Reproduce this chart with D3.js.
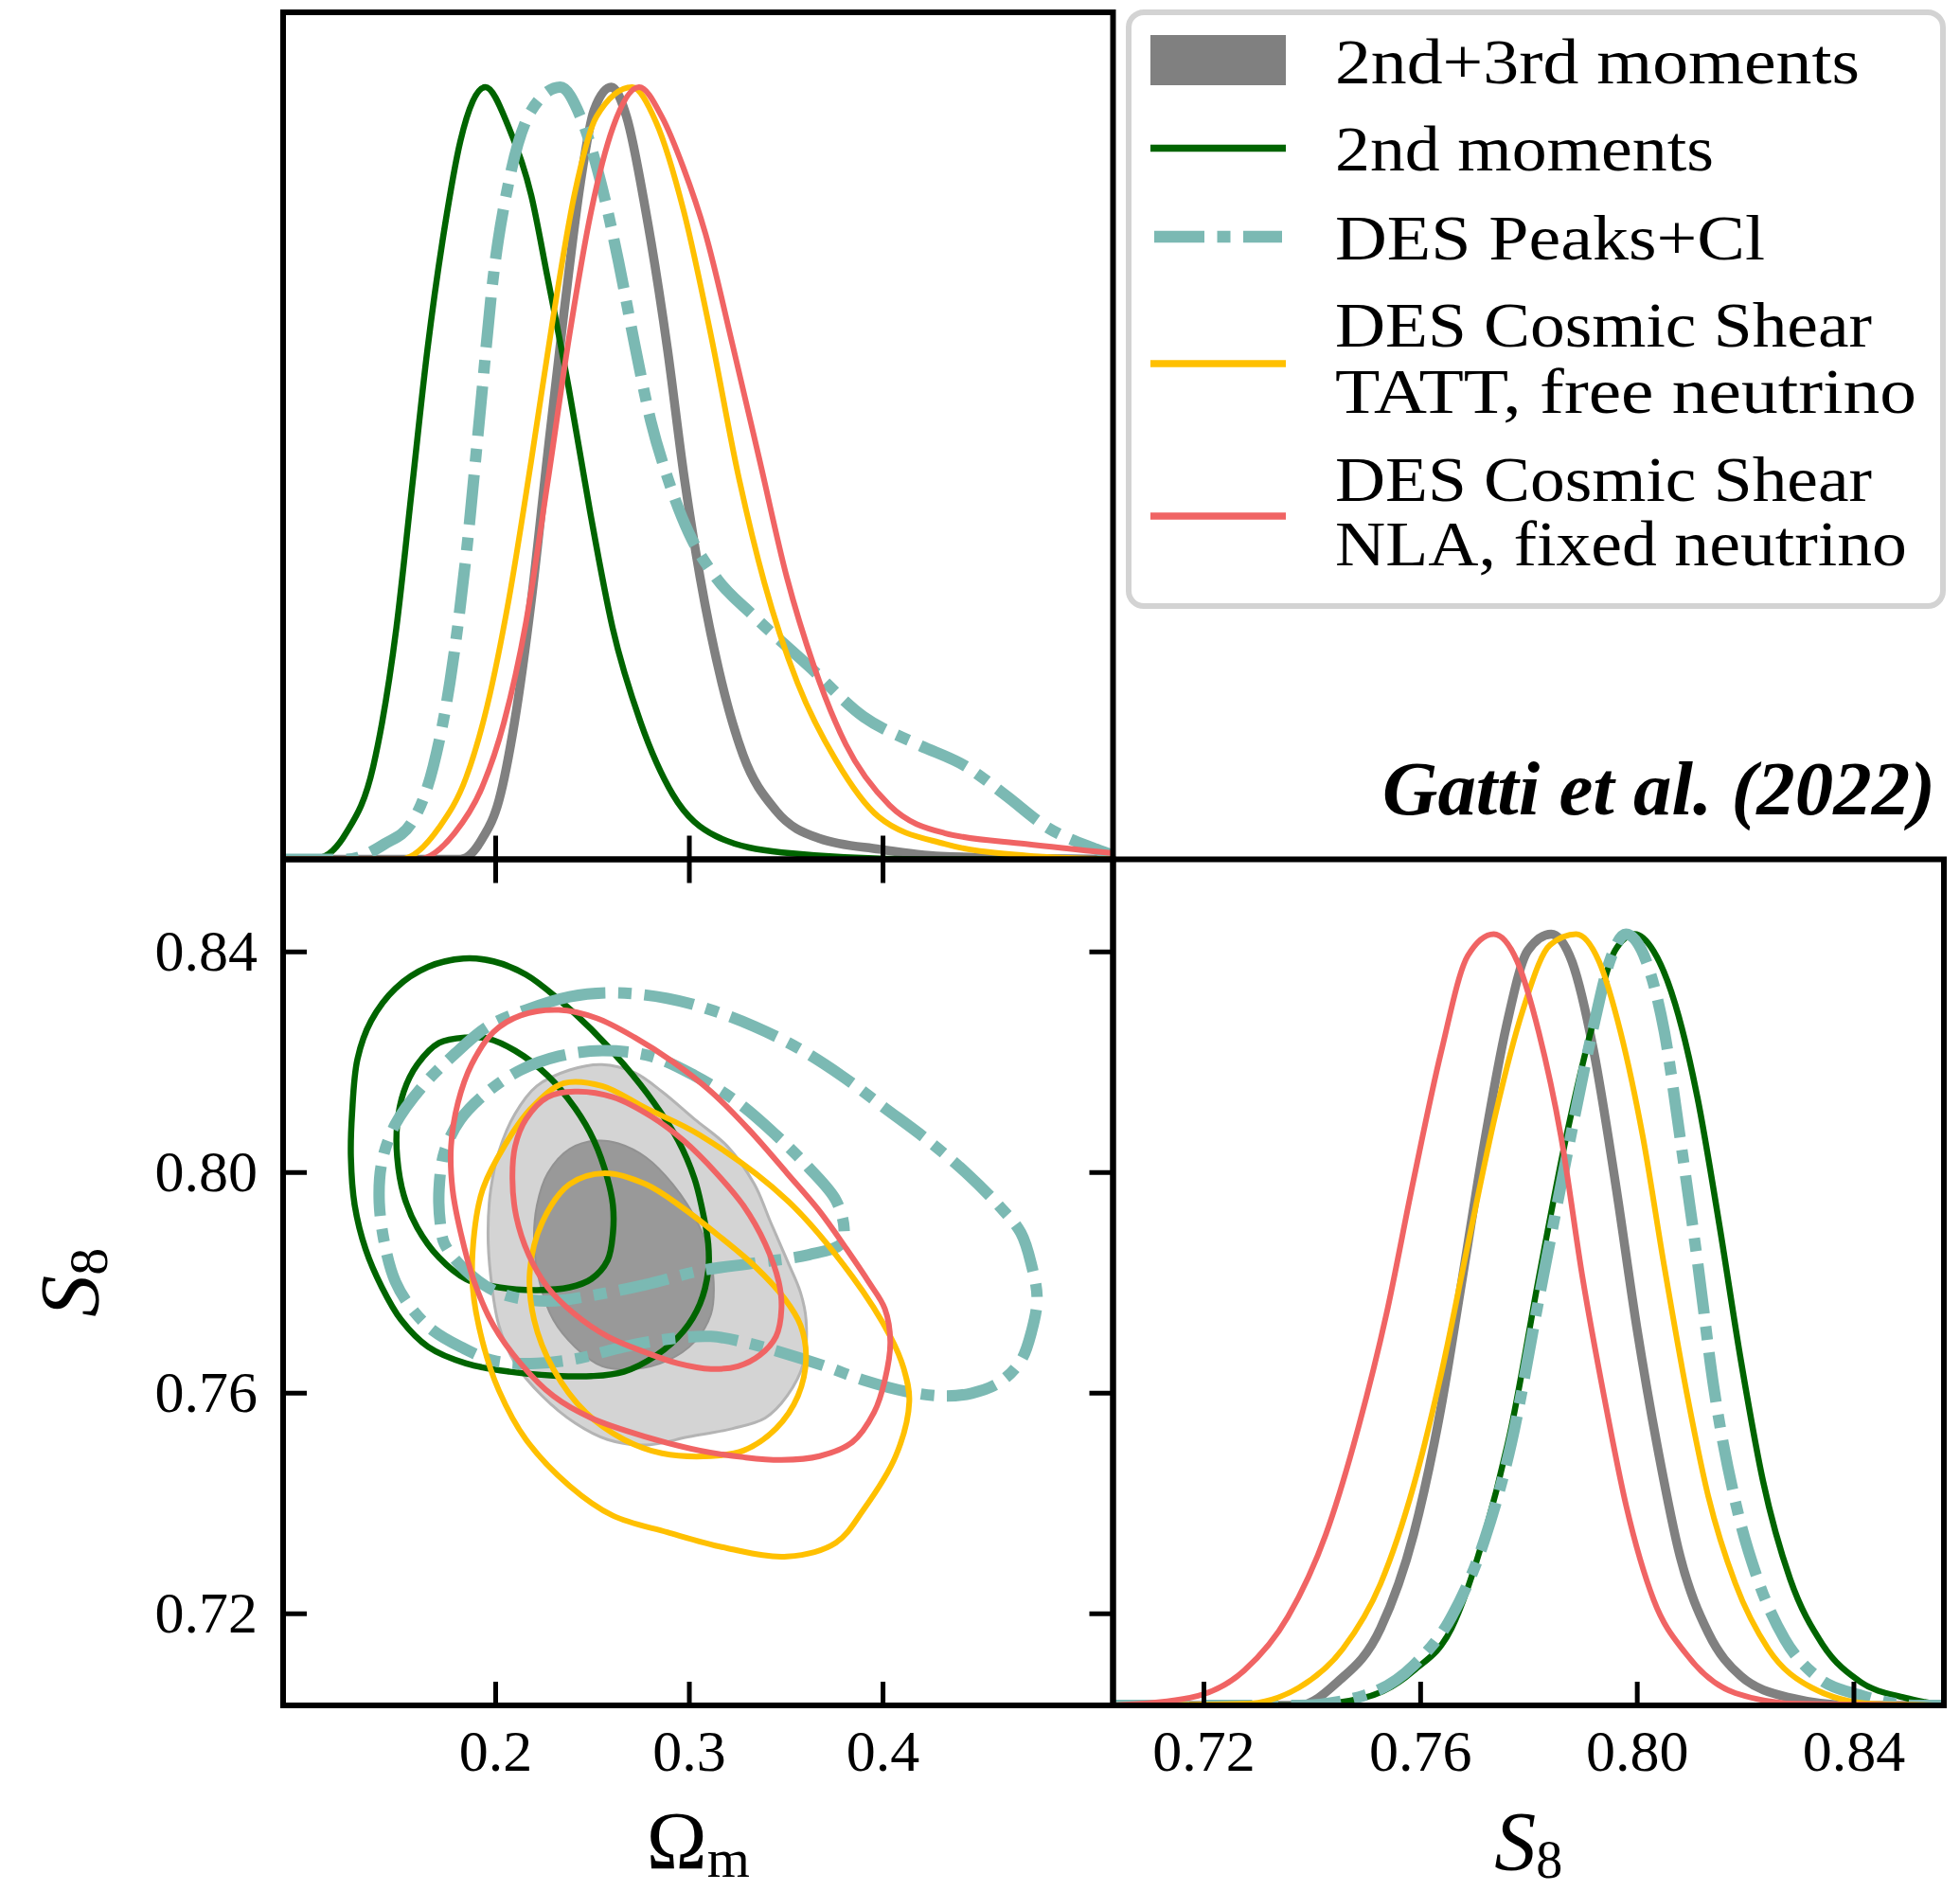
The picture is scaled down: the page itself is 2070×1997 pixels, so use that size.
<!DOCTYPE html>
<meta charset="utf-8">
<style>
  body { margin: 0; background: #fff; }
  text { font-family: "Liberation Serif", "Times New Roman", serif; }
</style>
<body>
<script src="https://d3js.org/d3.v7.min.js"></script>
<script>

// ---- data ----
var omRange = [0.0905, 0.519];
var s8Range = [0.7033, 0.8567];
var omTicks = [0.2, 0.3, 0.4];
var s8Ticks = [0.72, 0.76, 0.80, 0.84];

// 1D marginal of Omega_m, [Om, P/Pmax]
var om_23 = [[0.0905,0],[0.182,0],[0.1934,0.027],[0.202,0.077],[0.210,0.178],[0.2187,0.336],[0.227,0.523],[0.2356,0.71],[0.244,0.876],[0.251,0.97],[0.260,1.0],[0.2678,0.962],[0.2777,0.84],[0.289,0.66],[0.2973,0.50],[0.3058,0.365],[0.317,0.229],[0.328,0.135],[0.345,0.063],[0.3675,0.027],[0.3985,0.013],[0.43,0.004],[0.519,0]];
var om_2nd = [[0.0905,0],[0.109,0.002],[0.123,0.034],[0.137,0.12],[0.149,0.30],[0.157,0.48],[0.165,0.66],[0.174,0.82],[0.182,0.93],[0.1949,1.0],[0.207,0.948],[0.2186,0.86],[0.227,0.754],[0.238,0.61],[0.249,0.45],[0.2606,0.30],[0.275,0.178],[0.2917,0.084],[0.314,0.03],[0.348,0.009],[0.42,0],[0.519,0]];
var om_peaks = [[0.0905,0],[0.123,0],[0.143,0.02],[0.157,0.048],[0.168,0.12],[0.1766,0.229],[0.185,0.394],[0.192,0.574],[0.199,0.754],[0.2075,0.883],[0.2187,0.97],[0.2336,1.0],[0.244,0.962],[0.2553,0.869],[0.2636,0.775],[0.272,0.667],[0.2804,0.567],[0.2889,0.495],[0.2999,0.423],[0.314,0.365],[0.3336,0.315],[0.362,0.25],[0.390,0.185],[0.418,0.149],[0.4433,0.12],[0.463,0.084],[0.4853,0.041],[0.5105,0.013],[0.519,0.005]];
var om_tatt = [[0.0905,0],[0.151,0],[0.171,0.041],[0.185,0.106],[0.196,0.20],[0.207,0.336],[0.2186,0.516],[0.230,0.703],[0.241,0.862],[0.2523,0.962],[0.2707,1.0],[0.283,0.955],[0.2973,0.84],[0.3113,0.68],[0.3253,0.50],[0.339,0.358],[0.356,0.229],[0.376,0.128],[0.398,0.055],[0.432,0.02],[0.474,0.005],[0.519,0]];
var om_nla = [[0.0905,0],[0.160,0],[0.179,0.034],[0.193,0.092],[0.2046,0.178],[0.2159,0.307],[0.227,0.487],[0.2384,0.68],[0.2496,0.84],[0.2608,0.948],[0.2743,1.0],[0.286,0.962],[0.297,0.897],[0.3086,0.81],[0.3225,0.667],[0.3366,0.516],[0.3506,0.365],[0.3646,0.25],[0.381,0.149],[0.4036,0.07],[0.432,0.034],[0.474,0.02],[0.519,0.008]];

// 1D marginal of S8, [S8, P/Pmax]
var s8_23 = [[0.7033,0],[0.7376,0],[0.7447,0.03],[0.7527,0.10],[0.7588,0.222],[0.7638,0.384],[0.7678,0.554],[0.7719,0.731],[0.7759,0.88],[0.7799,0.979],[0.7842,1.0],[0.788,0.965],[0.792,0.85],[0.796,0.68],[0.800,0.49],[0.804,0.328],[0.808,0.193],[0.8132,0.094],[0.8192,0.038],[0.8283,0.01],[0.84,0],[0.8567,0]];
var s8_2nd = [[0.7033,0],[0.7376,0],[0.7497,0.01],[0.7588,0.045],[0.7658,0.10],[0.7719,0.222],[0.7769,0.363],[0.7819,0.554],[0.787,0.738],[0.792,0.887],[0.796,0.979],[0.7996,1.0],[0.8031,0.978],[0.8071,0.909],[0.8112,0.788],[0.8152,0.625],[0.8192,0.448],[0.8233,0.291],[0.8283,0.164],[0.8343,0.079],[0.8414,0.03],[0.8495,0.01],[0.8567,0]];
var s8_peaks = [[0.7033,0],[0.7376,0],[0.7497,0.013],[0.7588,0.052],[0.7658,0.115],[0.7719,0.215],[0.7769,0.342],[0.7819,0.526],[0.787,0.71],[0.792,0.88],[0.795,0.965],[0.798,1.0],[0.8021,0.958],[0.8051,0.873],[0.8081,0.731],[0.8112,0.576],[0.8142,0.413],[0.8182,0.264],[0.8223,0.164],[0.8273,0.086],[0.8333,0.037],[0.8414,0.013],[0.852,0],[0.8567,0]];
var s8_tatt = [[0.7033,0],[0.7275,0.002],[0.7376,0.023],[0.7457,0.073],[0.7527,0.158],[0.7588,0.285],[0.7638,0.427],[0.7688,0.597],[0.7739,0.766],[0.7789,0.90],[0.784,0.986],[0.7888,1.0],[0.793,0.965],[0.797,0.873],[0.8011,0.738],[0.8051,0.568],[0.8092,0.406],[0.8132,0.271],[0.8182,0.158],[0.8243,0.073],[0.8323,0.023],[0.8435,0.002],[0.8567,0]];
var s8_nla = [[0.7033,0],[0.7175,0.01],[0.7275,0.045],[0.7356,0.115],[0.7426,0.222],[0.7487,0.363],[0.7537,0.505],[0.7588,0.682],[0.7638,0.845],[0.7688,0.972],[0.7736,1.0],[0.7779,0.965],[0.7819,0.873],[0.7860,0.738],[0.7900,0.554],[0.7940,0.399],[0.7981,0.257],[0.8031,0.137],[0.8092,0.066],[0.8182,0.016],[0.830,0.002],[0.8567,0]];

// 2D contours (68% inner, 95% outer), [Om, S8]
var c_23_out = [[0.2552,0.8195],[0.2384,0.8185],[0.2215,0.8156],[0.2103,0.8106],[0.2019,0.8037],[0.1977,0.7968],[0.1963,0.7890],[0.1977,0.7811],[0.2019,0.7722],[0.2103,0.7653],[0.2243,0.7594],[0.2412,0.7545],[0.2580,0.7515],[0.2777,0.7505],[0.3001,0.7520],[0.3226,0.7535],[0.3394,0.7554],[0.3507,0.7594],[0.3591,0.7653],[0.3605,0.7732],[0.3577,0.7781],[0.3507,0.7840],[0.3422,0.7909],[0.3338,0.7978],[0.3198,0.8047],[0.3029,0.8096],[0.2861,0.8146],[0.2721,0.8180]];
var c_23_in = [[0.2524,0.8057],[0.2384,0.8042],[0.2271,0.7998],[0.2215,0.7939],[0.2201,0.7870],[0.2229,0.7801],[0.2300,0.7732],[0.2412,0.7683],[0.2552,0.7648],[0.2721,0.7643],[0.2889,0.7658],[0.3029,0.7692],[0.3114,0.7742],[0.3128,0.7801],[0.3100,0.7860],[0.3029,0.7919],[0.2917,0.7978],[0.2777,0.8027],[0.2636,0.8052]];
var c_2nd_out = [[0.1836,0.8387],[0.1654,0.8372],[0.1485,0.8333],[0.1359,0.8274],[0.1289,0.8205],[0.1261,0.8106],[0.1255,0.8027],[0.1275,0.7939],[0.1331,0.7860],[0.1415,0.7791],[0.1514,0.7732],[0.1654,0.7683],[0.1850,0.7653],[0.2075,0.7638],[0.2300,0.7631],[0.2496,0.7630],[0.2664,0.7638],[0.2833,0.7668],[0.2973,0.7712],[0.3057,0.7761],[0.3100,0.7821],[0.3100,0.7870],[0.3071,0.7929],[0.3029,0.7988],[0.2945,0.8057],[0.2819,0.8126],[0.2664,0.8195],[0.2496,0.8259],[0.2328,0.8313],[0.2159,0.8358],[0.1991,0.8382]];
var c_2nd_in = [[0.1850,0.8244],[0.1710,0.8234],[0.1598,0.8195],[0.1528,0.8146],[0.1494,0.8087],[0.1494,0.8027],[0.1528,0.7958],[0.1598,0.7899],[0.1710,0.7845],[0.1850,0.7806],[0.2019,0.7791],[0.2215,0.7786],[0.2384,0.7791],[0.2496,0.7806],[0.2580,0.7840],[0.2608,0.7890],[0.2608,0.7939],[0.2580,0.7988],[0.2510,0.8057],[0.2412,0.8116],[0.2271,0.8175],[0.2103,0.8220],[0.1963,0.8242]];
var c_peaks_out = [[0.2608,0.8325],[0.2384,0.8318],[0.2159,0.8294],[0.1963,0.8264],[0.1794,0.8215],[0.1626,0.8156],[0.1485,0.8087],[0.1415,0.8018],[0.1401,0.7949],[0.1429,0.7870],[0.1485,0.7801],[0.1570,0.7752],[0.1682,0.7712],[0.1822,0.7683],[0.1991,0.7658],[0.2215,0.7653],[0.2440,0.7663],[0.2664,0.7683],[0.2889,0.7697],[0.3114,0.7702],[0.3282,0.7692],[0.3478,0.7673],[0.3703,0.7648],[0.3900,0.7623],[0.4124,0.7602],[0.4321,0.7594],[0.4461,0.7599],[0.4601,0.7618],[0.4714,0.7658],[0.4770,0.7712],[0.4798,0.7771],[0.4770,0.7830],[0.4714,0.7890],[0.4601,0.7939],[0.4433,0.7998],[0.4236,0.8057],[0.4012,0.8116],[0.3787,0.8175],[0.3563,0.8225],[0.3338,0.8264],[0.3114,0.8294],[0.2889,0.8315]];
var c_peaks_in = [[0.2552,0.8220],[0.2328,0.8210],[0.2131,0.8185],[0.1963,0.8146],[0.1822,0.8096],[0.1738,0.8037],[0.1710,0.7968],[0.1716,0.7909],[0.1738,0.7870],[0.1850,0.7821],[0.2019,0.7781],[0.2271,0.7766],[0.2496,0.7776],[0.2777,0.7796],[0.3057,0.7821],[0.3338,0.7835],[0.3619,0.7850],[0.3787,0.7870],[0.3801,0.7899],[0.3759,0.7949],[0.3619,0.8008],[0.3450,0.8067],[0.3254,0.8126],[0.3029,0.8175],[0.2805,0.8210]];
var c_tatt_out = [[0.2355,0.8161],[0.2552,0.8156],[0.2777,0.8116],[0.3057,0.8067],[0.3507,0.7949],[0.3843,0.7811],[0.4040,0.7702],[0.4110,0.7643],[0.4138,0.7584],[0.4068,0.7485],[0.3900,0.7387],[0.3759,0.7328],[0.3507,0.7303],[0.3198,0.7318],[0.2889,0.7347],[0.2608,0.7377],[0.2384,0.7431],[0.2159,0.7515],[0.2019,0.7604],[0.1935,0.7692],[0.1884,0.7791],[0.1892,0.7890],[0.1935,0.7968],[0.2047,0.8047],[0.2187,0.8116]];
var c_tatt_in = [[0.2566,0.7998],[0.2777,0.7978],[0.2973,0.7934],[0.3170,0.7880],[0.3338,0.7830],[0.3493,0.7771],[0.3577,0.7722],[0.3605,0.7663],[0.3563,0.7594],[0.3450,0.7535],[0.3282,0.7495],[0.3114,0.7485],[0.2861,0.7490],[0.2664,0.7515],[0.2468,0.7564],[0.2300,0.7643],[0.2201,0.7732],[0.2179,0.7821],[0.2243,0.7909],[0.2384,0.7978]];
var c_nla_out = [[0.2328,0.8294],[0.2131,0.8284],[0.1991,0.8254],[0.1878,0.8195],[0.1808,0.8126],[0.1772,0.8047],[0.1780,0.7968],[0.1822,0.7890],[0.1892,0.7801],[0.1991,0.7722],[0.2131,0.7653],[0.2300,0.7594],[0.2496,0.7554],[0.2777,0.7520],[0.3057,0.7495],[0.3282,0.7483],[0.3478,0.7478],[0.3675,0.7485],[0.3843,0.7510],[0.3956,0.7564],[0.4012,0.7623],[0.4040,0.7692],[0.4012,0.7752],[0.3928,0.7801],[0.3815,0.7860],[0.3675,0.7929],[0.3507,0.7998],[0.3310,0.8077],[0.3114,0.8146],[0.2917,0.8200],[0.2721,0.8244],[0.2524,0.8279]];
var c_nla_in = [[0.2412,0.8146],[0.2271,0.8136],[0.2159,0.8096],[0.2103,0.8047],[0.2089,0.7988],[0.2109,0.7919],[0.2173,0.7850],[0.2271,0.7791],[0.2412,0.7742],[0.2580,0.7702],[0.2777,0.7673],[0.2945,0.7653],[0.3114,0.7643],[0.3254,0.7648],[0.3366,0.7668],[0.3450,0.7702],[0.3478,0.7752],[0.3464,0.7801],[0.3394,0.7870],[0.3282,0.7939],[0.3142,0.7998],[0.2973,0.8057],[0.2805,0.8101],[0.2608,0.8136]];

var legendLabels = [["2nd+3rd moments"], ["2nd moments"], ["DES Peaks+Cl"],
                    ["DES Cosmic Shear", "TATT, free neutrino"],
                    ["DES Cosmic Shear", "NLA, fixed neutrino"]];

// ---- styles ----
var DASHDOT = "53,13.5,14,13.5";
var series = [
  { name: "23",    color: "#808080", w: 9.5, dash: null,    om: om_23,    s8: s8_23,    out: c_23_out,    inn: c_23_in },
  { name: "2nd",   color: "#006400", w: 6.5, dash: null,    om: om_2nd,   s8: s8_2nd,   out: c_2nd_out,   inn: c_2nd_in },
  { name: "peaks", color: "#7bb9b3", w: 12,  dash: DASHDOT, om: om_peaks, s8: s8_peaks, out: c_peaks_out, inn: c_peaks_in },
  { name: "tatt",  color: "#ffc000", w: 6,   dash: null,    om: om_tatt,  s8: s8_tatt,  out: c_tatt_out,  inn: c_tatt_in },
  { name: "nla",   color: "#f06464", w: 6,   dash: null,    om: om_nla,   s8: s8_nla,   out: c_nla_out,   inn: c_nla_in }
];

// ---- layout ----
var W = 2070, H = 1997;
var L = 299, M = 1175.5, R = 2053, T = 13, MY = 907.5, B = 1801;
var TICK = 25, FRAME = 6;

var svg = d3.select("body").append("svg").attr("width", W).attr("height", H);

var xOm = d3.scaleLinear().domain(omRange).range([L, M]);
var yS8 = d3.scaleLinear().domain(s8Range).range([B, MY]);
var xS8 = d3.scaleLinear().domain(s8Range).range([M, R]);
var yTop = d3.scaleLinear().domain([0, 1.097]).range([MY, T]);
var yRight = d3.scaleLinear().domain([0, 1.097]).range([B, MY]);

var defs = svg.append("defs");
function clip(id, x0, y0, x1, y1) {
  defs.append("clipPath").attr("id", id).append("rect")
    .attr("x", x0).attr("y", y0).attr("width", x1 - x0).attr("height", y1 - y0);
}
clip("cTop", L, T, M, MY);
clip("c2d", L, MY, M, B);
clip("cRight", M, MY, R, B);

// ---- 1D Omega_m ----
var lineTop = d3.line().x(function (d) { return xOm(d[0]); }).y(function (d) { return yTop(d[1]); })
  .curve(d3.curveMonotoneX);
var gTop = svg.append("g").attr("clip-path", "url(#cTop)");
series.forEach(function (s) {
  gTop.append("path").attr("d", lineTop(s.om))
    .attr("fill", "none").attr("stroke", s.color).attr("stroke-width", s.w)
    .attr("stroke-dasharray", s.dash);
});

// ---- 2D ----
var contour = d3.line().x(function (d) { return xOm(d[0]); }).y(function (d) { return yS8(d[1]); })
  .curve(d3.curveCatmullRomClosed.alpha(0.5));
var g2d = svg.append("g").attr("clip-path", "url(#c2d)");
series.forEach(function (s) {
  if (s.name === "23") {
    g2d.append("path").attr("d", contour(s.out))
      .attr("fill", "#d4d4d4").attr("stroke", "#b4b4b4").attr("stroke-width", 3);
    g2d.append("path").attr("d", contour(s.inn))
      .attr("fill", "#999999").attr("stroke", "#929292").attr("stroke-width", 2);
  } else {
    [s.out, s.inn].forEach(function (c) {
      g2d.append("path").attr("d", contour(c))
        .attr("fill", "none").attr("stroke", s.color).attr("stroke-width", s.w)
        .attr("stroke-dasharray", s.dash);
    });
  }
});

// ---- 1D S8 ----
var lineRight = d3.line().x(function (d) { return xS8(d[0]); }).y(function (d) { return yRight(d[1]); })
  .curve(d3.curveMonotoneX);
var gRight = svg.append("g").attr("clip-path", "url(#cRight)");
series.forEach(function (s) {
  gRight.append("path").attr("d", lineRight(s.s8))
    .attr("fill", "none").attr("stroke", s.color).attr("stroke-width", s.w)
    .attr("stroke-dasharray", s.dash);
});

// ---- axes (inward ticks) ----
function styleAxis(g) {
  g.attr("font-family", "Liberation Serif, serif").attr("font-size", 62);
  g.select(".domain").remove();
  g.selectAll(".tick line").attr("stroke", "#000").attr("stroke-width", 5);
  g.selectAll(".tick text").attr("fill", "#000");
}
svg.append("g").attr("transform", "translate(0," + MY + ")")
  .call(d3.axisBottom(xOm).tickValues(omTicks).tickSize(-TICK).tickFormat("")).call(styleAxis);
svg.append("g").attr("transform", "translate(0," + MY + ")")
  .call(d3.axisTop(xOm).tickValues(omTicks).tickSize(-TICK).tickFormat("")).call(styleAxis);
svg.append("g").attr("transform", "translate(0," + B + ")")
  .call(d3.axisBottom(xOm).tickValues(omTicks).tickSize(-TICK).tickPadding(25).tickFormat(d3.format(".1f"))).call(styleAxis);
svg.append("g").attr("transform", "translate(" + L + ",0)")
  .call(d3.axisLeft(yS8).tickValues(s8Ticks).tickSize(-TICK).tickPadding(27).tickFormat(d3.format(".2f"))).call(styleAxis);
svg.append("g").attr("transform", "translate(" + M + ",0)")
  .call(d3.axisRight(yS8).tickValues(s8Ticks).tickSize(-TICK).tickFormat("")).call(styleAxis);
svg.append("g").attr("transform", "translate(0," + B + ")")
  .call(d3.axisBottom(xS8).tickValues(s8Ticks).tickSize(-TICK).tickPadding(25).tickFormat(d3.format(".2f"))).call(styleAxis);

// frames
[[L, T, M, MY], [L, MY, M, B], [M, MY, R, B]].forEach(function (p) {
  svg.append("rect").attr("x", p[0]).attr("y", p[1]).attr("width", p[2] - p[0]).attr("height", p[3] - p[1])
    .attr("fill", "none").attr("stroke", "#000").attr("stroke-width", FRAME);
});

// ---- axis labels ----
var omLab = svg.append("text").attr("x", (L + M) / 2).attr("y", 1973).attr("text-anchor", "middle");
omLab.append("tspan").attr("font-size", 86).text("Ω");
omLab.append("tspan").attr("font-size", 58).attr("dy", 9).text("m");

var s8Lab = svg.append("text").attr("x", (M + R) / 2).attr("y", 1974).attr("text-anchor", "middle");
s8Lab.append("tspan").attr("font-size", 88).attr("font-style", "italic").text("S");
s8Lab.append("tspan").attr("font-size", 56).attr("dy", 9).text("8");

var s8Left = svg.append("text").attr("transform", "translate(103," + (MY + B) / 2 + ") rotate(-90)")
  .attr("text-anchor", "middle");
s8Left.append("tspan").attr("font-size", 88).attr("font-style", "italic").text("S");
s8Left.append("tspan").attr("font-size", 58).attr("dy", 10).text("8");

// ---- title ----
svg.append("text").attr("x", 2044).attr("y", 860).attr("text-anchor", "end")
  .attr("font-size", 80).attr("font-weight", "bold").attr("font-style", "italic")
  .attr("textLength", 584).attr("lengthAdjust", "spacingAndGlyphs")
  .text("Gatti et al. (2022)");

// ---- legend ----
var lg = svg.append("g");
lg.append("rect").attr("x", 1192).attr("y", 13).attr("width", 860).attr("height", 627)
  .attr("rx", 16).attr("fill", "#fff").attr("stroke", "#d3d3d3").attr("stroke-width", 6);

var rowBase = [[88], [180], [274], [366, 435.5], [528.5, 597]];
var rowHandle = [63.5, 156.6, 250, 384, 545];
var rowWidth = [[554], [400], [454], [567, 614], [567, 604]];
var hx0 = 1215, hx1 = 1358, tx = 1410;

series.forEach(function (s, i) {
  if (s.name === "23") {
    lg.append("rect").attr("x", hx0).attr("y", rowHandle[i] - 26.5).attr("width", hx1 - hx0).attr("height", 53)
      .attr("fill", s.color);
  } else {
    var inset = s.dash ? 4 : 0;
    lg.append("line").attr("x1", hx0 + inset).attr("x2", hx1 - inset)
      .attr("y1", rowHandle[i]).attr("y2", rowHandle[i])
      .attr("stroke", s.color).attr("stroke-width", s.dash ? 12.5 : 7.5)
      .attr("stroke-dasharray", s.dash);
  }
  legendLabels[i].forEach(function (t, j) {
    lg.append("text").attr("x", tx).attr("y", rowBase[i][j]).attr("font-size", 68)
      .attr("textLength", rowWidth[i][j]).attr("lengthAdjust", "spacingAndGlyphs")
      .text(t);
  });
});

</script>
</body>
